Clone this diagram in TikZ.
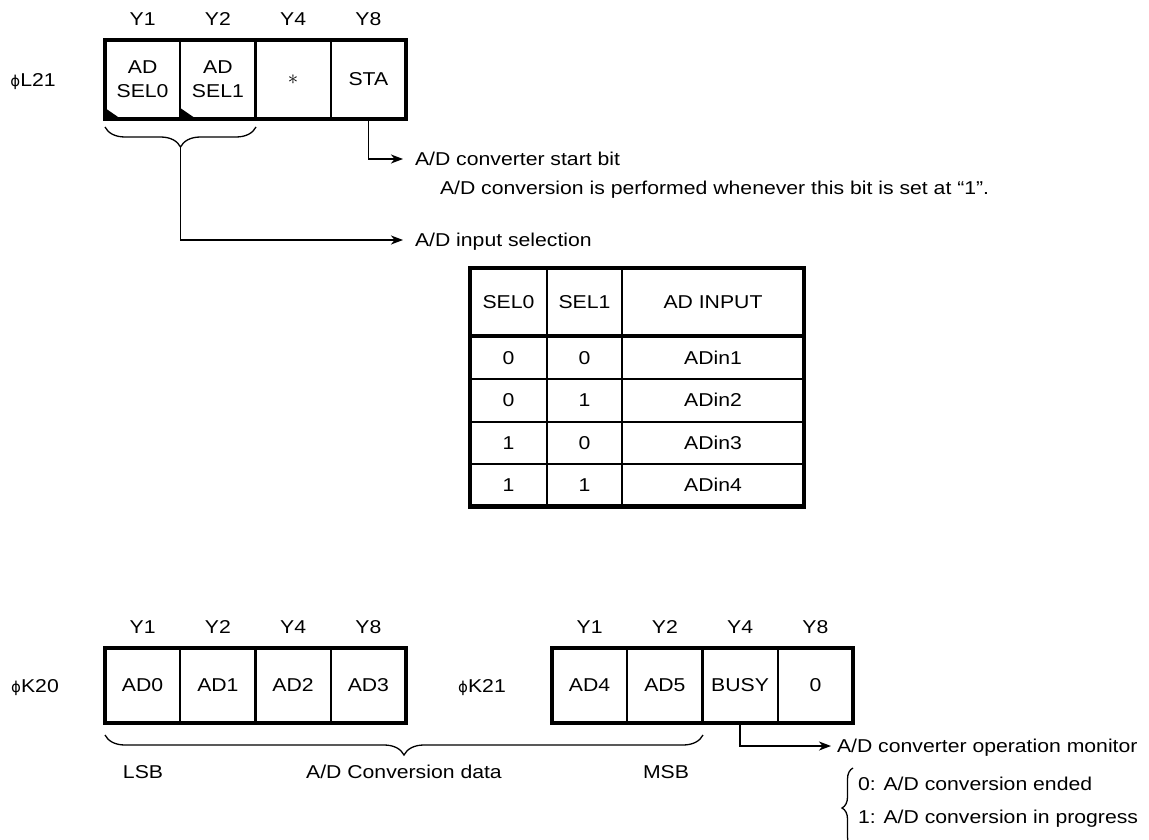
\documentclass[tikz,border=0pt]{standalone}
\usepackage{fontspec}
\setmainfont{Liberation Sans}[FakeStretch=1.14]
\newfontfamily\phifont{DejaVu Sans}
\newcommand{\myphi}{{\phifont\fontsize{15}{18}\selectfont ϕ}}
\usetikzlibrary{arrows.meta,decorations.pathreplacing}
\begin{document}
\begin{tikzpicture}[x=1pt,y=-1pt,
  every node/.style={inner sep=0pt, outer sep=0pt},
  font=\fontsize{18.6}{24}\selectfont,
  txt/.style={text height=13.3pt, text depth=0pt},
  bitcell/.style={draw, line width=2pt, minimum width=75.25pt, minimum height=79pt, align=center},
  lowcell/.style={draw, line width=2pt, minimum width=75.25pt, minimum height=75pt, align=center},
  tabcell/.style={draw, line width=2pt, align=center},
  frame/.style={line width=4.6pt},
  arr/.style={line width=1.3pt, -{Stealth[length=12pt, width=9pt, inset=3.5pt]}},
  bracestyle/.style={line width=1.3pt, decorate},
]
\clip (0,0) rectangle (1149,840);
\fill[white] (0,0) rectangle (1149,840);

% ---------- top register phi L21 ----------
\node[txt] (lname) at (33,80) {\myphi L21};
\node[bitcell] (l1) at (142.6,79.5) {AD\\SEL0};
\node[bitcell] (l2) at (217.9,79.5) {AD\\SEL1};
\node[bitcell] (l3) at (293.1,79.5) {\fontsize{22}{22}\selectfont$\ast$};
\node[bitcell] (l4) at (368.4,79.5) {STA};
\draw[frame] (l1.north west) rectangle (l4.south east);
\fill (l1.south west) -- ++(16,0) -- ++(-16,-11) -- cycle;
\fill (l2.south west) -- ++(16,0) -- ++(-16,-11) -- cycle;
\node[txt] (ly1) at (142.6,19) {Y1};
\node[txt] (ly2) at (217.9,19) {Y2};
\node[txt] (ly4) at (293.1,19) {Y4};
\node[txt] (ly8) at (368.4,19) {Y8};

% STA arrow
\coordinate (staHead) at (403,159);
\draw[arr] (l4.south) |- (staHead);
\node[txt, anchor=west] (staText) at (415,159) {A/D converter start bit};
\node[txt, anchor=west] (staText2) at (440,188) {A/D conversion is performed whenever this bit is set at “1”.};

% selection brace and arrow
\coordinate (selL) at (105,127);
\coordinate (selR) at (256,127);
\coordinate (selTip) at (180.5,147);
\draw[bracestyle, decoration={brace, mirror, amplitude=20pt}] (selL) -- (selR);
\coordinate (selHead) at (403,240);
\draw[arr] (selTip) |- (selHead);
\node[txt, anchor=west] (selText) at (415,240) {A/D input selection};

% ---------- table ----------
\node[tabcell, minimum width=77pt, minimum height=68pt] (h1) at (508.5,302) {SEL0};
\node[tabcell, minimum width=75pt, minimum height=68pt] (h2) at (584.5,302) {SEL1};
\node[tabcell, minimum width=182pt, minimum height=68pt] (h3) at (713,302) {AD INPUT};
\foreach \r/\a/\b/\c/\yy in {1/0/0/1/357.75, 2/0/1/2/400.25, 3/1/0/3/442.75, 4/1/1/4/485.25}{
  \node[tabcell, minimum width=77pt, minimum height=42.5pt] (r\r c1) at (508.5,\yy) {\a};
  \node[tabcell, minimum width=75pt, minimum height=42.5pt] (r\r c2) at (584.5,\yy) {\b};
  \node[tabcell, minimum width=182pt, minimum height=42.5pt] (r\r c3) at (713,\yy) {ADin\c};
}
\draw[frame] (h1.north west) rectangle (r4c3.south east);
\draw[line width=3.2pt] (h1.south west) -- (h3.south east);

% ---------- bottom registers ----------
\node[txt] (kname0) at (35,686) {\myphi K20};
\node[lowcell] (a0) at (142.6,685.5) {AD0};
\node[lowcell] (a1) at (217.9,685.5) {AD1};
\node[lowcell] (a2) at (293.1,685.5) {AD2};
\node[lowcell] (a3) at (368.4,685.5) {AD3};
\draw[frame] (a0.north west) rectangle (a3.south east);
\node[txt] (ay1) at (142.6,627) {Y1};
\node[txt] (ay2) at (217.9,627) {Y2};
\node[txt] (ay4) at (293.1,627) {Y4};
\node[txt] (ay8) at (368.4,627) {Y8};

\node[txt] (kname1) at (482,686) {\myphi K21};
\node[lowcell] (b0) at (589.6,685.5) {AD4};
\node[lowcell] (b1) at (664.9,685.5) {AD5};
\node[lowcell] (b2) at (740.1,685.5) {BUSY};
\node[lowcell] (b3) at (815.4,685.5) {0};
\draw[frame] (b0.north west) rectangle (b3.south east);
\node[txt] (by1) at (589.6,627) {Y1};
\node[txt] (by2) at (664.9,627) {Y2};
\node[txt] (by4) at (740.1,627) {Y4};
\node[txt] (by8) at (815.4,627) {Y8};

% data brace
\coordinate (datL) at (105,735);
\coordinate (datR) at (703,735);
\draw[bracestyle, decoration={brace, mirror, amplitude=20pt}] (datL) -- (datR);
\node[txt] (lsb) at (143,772) {LSB};
\node[txt] (dat) at (404,772) {A/D Conversion data};
\node[txt] (msb) at (666,772) {MSB};

% BUSY arrow
\coordinate (monHead) at (831,746);
\draw[arr] (b2.south) |- (monHead);
\node[txt, anchor=west] (monText) at (837,746) {A/D converter operation monitor};
\coordinate (stB) at (853,848);
\coordinate (stT) at (853,768);
\draw[bracestyle, decoration={brace, amplitude=11pt}] (stB) -- (stT);
\node[txt, anchor=west] (st0) at (858,784) {0: A/D conversion ended};
\node[txt, anchor=west] (st1) at (858,817) {1: A/D conversion in progress};
\end{tikzpicture}
\end{document}
